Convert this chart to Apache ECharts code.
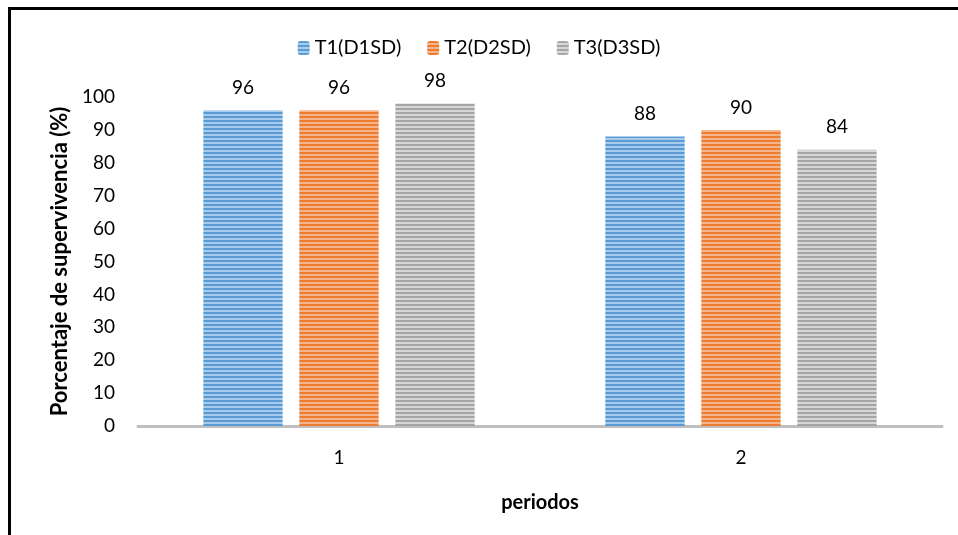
<!DOCTYPE html>
<html><head><meta charset="utf-8">
<script src="https://cdn.jsdelivr.net/npm/echarts@6/dist/echarts.min.js"></script>
<style>html,body{margin:0;padding:0;background:#fff}#c{width:958px;height:535px}</style>
</head><body><div id="c"></div>
<script>
const categories = ['1', '2'];
const seriesNames = ['T1(D1SD)', 'T2(D2SD)', 'T3(D3SD)'];
const t1 = [96, 88];
const t2 = [96, 90];
const t3 = [98, 84];
const yTicks = [0, 10, 20, 30, 40, 50, 60, 70, 80, 90, 100];

function stripe(dark, light) {
  const c = document.createElement('canvas');
  c.width = 8; c.height = 4;
  const g = c.getContext('2d');
  g.fillStyle = light; g.fillRect(0, 0, 8, 4);
  g.fillStyle = dark; g.fillRect(0, 0, 8, 2);
  return { image: c, repeat: 'repeat' };
}
const fills = [stripe('#5B9BD5', '#A9CBEB'), stripe('#ED7D31', '#F6B48A'), stripe('#A5A5A5', '#D6D6D6')];
const font = 'Lato, "Noto Sans", sans-serif';
const vals = [t1, t2, t3];
const chart = echarts.init(document.getElementById('c'));
chart.setOption({
  animation: false,
  textStyle: { fontFamily: font },
  graphic: [{ type: 'rect', shape: { x: 9.5, y: 8.5, width: 1000, height: 600 }, style: { fill: 'none', stroke: '#000', lineWidth: 3 } }],
  legend: { top: 33, left: 'center', itemWidth: 12, itemHeight: 14, itemGap: 26,
    textStyle: { fontSize: 20, color: '#000', fontFamily: font }, data: seriesNames },
  grid: { left: 138, right: 16, top: 97, bottom: 109 },
  xAxis: { type: 'category', data: categories,
    axisLine: { lineStyle: { color: '#BFBFBF', width: 3 } }, axisTick: { show: false },
    axisLabel: { fontSize: 19, color: '#000', margin: 22 },
    name: 'periodos', nameLocation: 'middle', nameGap: 67,
    nameTextStyle: { fontSize: 20, fontWeight: 'bold', color: '#000' } },
  yAxis: { type: 'value', min: 0, max: 100, interval: 10,
    axisLine: { show: false }, axisTick: { show: false }, splitLine: { show: false },
    axisLabel: { fontSize: 19, color: '#000', margin: 23, formatter: v => yTicks.includes(v) ? String(v) : '' },
    name: 'Porcentaje de supervivencia (%)', nameLocation: 'middle', nameGap: 66,
    nameTextStyle: { fontSize: 22, fontWeight: 'bold', color: '#000' } },
  series: seriesNames.map((n, i) => ({
    name: n, type: 'bar', data: vals[i], barGap: '21%', barCategoryGap: '32.5%',
    itemStyle: { color: fills[i] },
    label: { show: true, position: 'top', distance: 13, fontSize: 19, color: '#000' }
  }))
});
</script></body></html>
